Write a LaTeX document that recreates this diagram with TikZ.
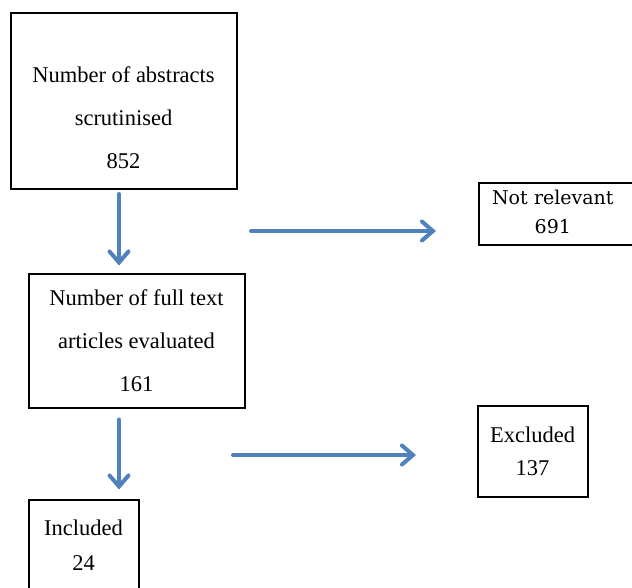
\documentclass[tikz,border=0pt]{standalone}
\usepackage{fontspec}
\setmainfont{Liberation Serif}
\newfontfamily\cambriafont{DejaVu Serif}
\usepackage{xcolor}
\usetikzlibrary{arrows.meta}
\definecolor{flowblue}{RGB}{79,129,189}

\begin{document}
\begin{tikzpicture}[
   x=1pt,y=-1pt,
   font=\fontsize{22.5}{43}\selectfont,
   box/.style={draw,line width=2pt,align=center,inner sep=0pt},
   flow/.style={flowblue,line width=4pt,line cap=round,-{Straight Barb[length=11pt,width=19pt,line cap=round]},
     preaction={draw=black!18,transform canvas={shift={(1pt,-1.5pt)}}}},
   every node/.style={text=black}]
\useasboundingbox (0,0) rectangle (632,587);
\clip (0,0) rectangle (632,587);
\node[box,minimum width=226pt,minimum height=176pt] (abs) at (123.5,101) {\rule{0pt}{50pt}Number of abstracts\\scrutinised\\852};
\node[box,minimum width=216pt,minimum height=134pt] (full) at (136.5,340.5) {Number of full text\\articles evaluated\\161};
\node[box,font=\cambriafont\fontsize{19}{29}\selectfont,anchor=west,text width=150pt,align=left,inner xsep=13pt,minimum height=62pt] (nrel) at (478,213.5) {\begin{tabular}{@{}c@{}}Not relevant\\691\end{tabular}};
\node[box,font=\fontsize{22.5}{33}\selectfont,minimum width=110pt,minimum height=91pt] (excl) at (532.5,451) {Excluded\\137};
\node[box,font=\fontsize{22.5}{35}\selectfont,minimum width=110pt,minimum height=91pt] (incl) at (83.5,545) {Included\\24};
\coordinate (toNrel-a) at (251,231);
\coordinate (toNrel-b) at (436,231);
\coordinate (toExcl-a) at (233,455);
\coordinate (toExcl-b) at (416,455);
\draw[flow,shorten <=4pt,shorten >=7pt] ([xshift=-4.5pt]abs.south) -- ([xshift=-4.5pt]abs.south |- full.north);
\draw[flow,shorten <=11pt,shorten >=9pt] ([xshift=-17.5pt]full.south) -- ([xshift=-17.5pt]full.south |- incl.north);
\draw[flow] (toNrel-a) -- (toNrel-b);
\draw[flow] (toExcl-a) -- (toExcl-b);
\end{tikzpicture}
\end{document}
